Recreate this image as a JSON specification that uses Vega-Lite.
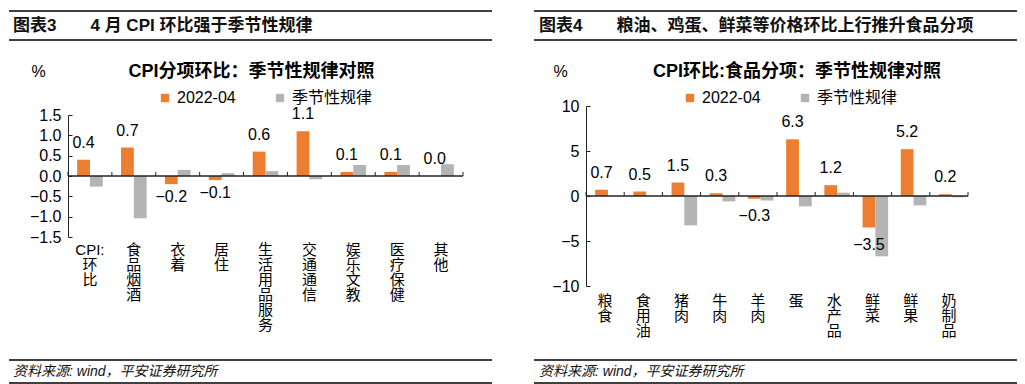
{
  "$schema": "https://vega.github.io/schema/vega-lite/v6.json",
  "padding": {"left": 8, "top": 10, "right": 0, "bottom": 0},
  "background": "white",
  "config": {
    "font": "Liberation Sans, Noto Sans CJK SC, sans-serif",
    "view": {"stroke": null},
    "axis": {"grid": false, "labelColor": "#000", "domainColor": "#222", "tickColor": "#222", "labelFont": "Liberation Sans, Noto Sans CJK SC, sans-serif", "titleFont": "Liberation Sans, Noto Sans CJK SC, sans-serif"},
    "axisY": {"labelOverlap": false},
    "legend": {"labelFont": "Liberation Sans, Noto Sans CJK SC, sans-serif", "labelColor": "#000"},
    "title": {"font": "Liberation Sans, Noto Sans CJK SC, sans-serif", "color": "#000"},
    "text": {"font": "Liberation Sans, Noto Sans CJK SC, sans-serif", "color": "#000"}
  },
  "datasets": {
    "left": [
      {"cat": "CPI:环比", "series": "2022-04", "value": 0.4},
      {"cat": "CPI:环比", "series": "季节性规律", "value": -0.26},
      {"cat": "食品烟酒", "series": "2022-04", "value": 0.7},
      {"cat": "食品烟酒", "series": "季节性规律", "value": -1.04},
      {"cat": "衣着", "series": "2022-04", "value": -0.2},
      {"cat": "衣着", "series": "季节性规律", "value": 0.15},
      {"cat": "居住", "series": "2022-04", "value": -0.1},
      {"cat": "居住", "series": "季节性规律", "value": 0.07},
      {"cat": "生活用品服务", "series": "2022-04", "value": 0.6},
      {"cat": "生活用品服务", "series": "季节性规律", "value": 0.12},
      {"cat": "交通通信", "series": "2022-04", "value": 1.1},
      {"cat": "交通通信", "series": "季节性规律", "value": -0.08},
      {"cat": "娱乐文教", "series": "2022-04", "value": 0.1},
      {"cat": "娱乐文教", "series": "季节性规律", "value": 0.27},
      {"cat": "医疗保健", "series": "2022-04", "value": 0.1},
      {"cat": "医疗保健", "series": "季节性规律", "value": 0.27},
      {"cat": "其他", "series": "2022-04", "value": 0.0},
      {"cat": "其他", "series": "季节性规律", "value": 0.29}
    ],
    "right": [
      {"cat": "粮食", "series": "2022-04", "value": 0.7},
      {"cat": "粮食", "series": "季节性规律", "value": 0.0},
      {"cat": "食用油", "series": "2022-04", "value": 0.5},
      {"cat": "食用油", "series": "季节性规律", "value": 0.0},
      {"cat": "猪肉", "series": "2022-04", "value": 1.5},
      {"cat": "猪肉", "series": "季节性规律", "value": -3.26},
      {"cat": "牛肉", "series": "2022-04", "value": 0.3},
      {"cat": "牛肉", "series": "季节性规律", "value": -0.6},
      {"cat": "羊肉", "series": "2022-04", "value": -0.3},
      {"cat": "羊肉", "series": "季节性规律", "value": -0.5},
      {"cat": "蛋", "series": "2022-04", "value": 6.3},
      {"cat": "蛋", "series": "季节性规律", "value": -1.15},
      {"cat": "水产品", "series": "2022-04", "value": 1.2},
      {"cat": "水产品", "series": "季节性规律", "value": 0.37},
      {"cat": "鲜菜", "series": "2022-04", "value": -3.5},
      {"cat": "鲜菜", "series": "季节性规律", "value": -6.7},
      {"cat": "鲜果", "series": "2022-04", "value": 5.2},
      {"cat": "鲜果", "series": "季节性规律", "value": -1.04},
      {"cat": "奶制品", "series": "2022-04", "value": 0.2},
      {"cat": "奶制品", "series": "季节性规律", "value": -0.15}
    ]
  },
  "spacing": 40,
  "resolve": {"scale": {"color": "independent"}, "legend": {"color": "independent"}},
  "hconcat": [
    {
      "spacing": 22,
      "resolve": {"scale": {"color": "independent"}, "legend": {"color": "independent"}},
      "vconcat": [
        {
          "width": 424, "height": 29,
          "data": {"values": [{"t": "图表3　　4 月 CPI 环比强于季节性规律"}]},
          "layer": [
            {"mark": {"type": "rule", "color": "#000", "strokeWidth": 1.3, "xOffset": -59},
             "encoding": {"x": {"datum": 0, "type": "quantitative", "scale": {"domain": [0, 1]}, "axis": null}, "x2": {"datum": 1}, "y": {"datum": 0, "type": "quantitative", "scale": {"domain": [0, 1]}, "axis": null}}},
            {"mark": {"type": "rule", "color": "#000", "strokeWidth": 1.3, "xOffset": -59},
             "encoding": {"x": {"datum": 0, "type": "quantitative", "scale": {"domain": [0, 1]}, "axis": null}, "x2": {"datum": 1}, "y": {"datum": 1, "type": "quantitative", "scale": {"domain": [0, 1]}, "axis": null}}},
            {"mark": {"type": "text", "align": "left", "baseline": "middle", "dx": -55, "fontSize": 17, "fontWeight": "bold", "color": "#111"},
             "encoding": {"x": {"datum": 0, "type": "quantitative", "scale": {"domain": [0, 1]}, "axis": null}, "y": {"datum": 0.5, "type": "quantitative", "scale": {"domain": [0, 1]}, "axis": null}, "text": {"field": "t"}}}
          ]
        },
        {
          "spacing": 27,
          "resolve": {"scale": {"color": "independent"}, "legend": {"color": "independent"}},
          "vconcat": [
            {
              "width": 395, "height": 122,
              "data": {"name": "left"},
              "title": {"text": "CPI分项环比：季节性规律对照", "anchor": "middle", "fontSize": 18, "fontWeight": "bold", "offset": -18, "dx": -14},
              "layer": [
                {
                  "mark": {"type": "bar"},
                  "encoding": {
                    "x": {"field": "cat", "type": "nominal", "sort": null, "scale": {"paddingInner": 0, "paddingOuter": 0},
                          "axis": {"orient": "bottom", "domain": false, "ticks": false, "labelAngle": 0, "labelAlign": "center", "labelBaseline": "top", "labelPadding": 5, "labelFontSize": 15, "labelLineHeight": 15, "labelOverlap": false, "title": null,
                                   "labelExpr": "datum.label == 'CPI:环比' ? ['CPI:', '环', '比'] : split(datum.label, '')"}},
                    "xOffset": {"field": "series", "type": "nominal", "scale": {"domain": ["2022-04", "季节性规律"], "paddingInner": 0, "paddingOuter": 0.715}},
                    "y": {"field": "value", "type": "quantitative", "scale": {"domain": [-1.5, 1.5], "nice": false, "zero": false},
                          "axis": {"orient": "left", "values": [-1.5, -1, -0.5, 0, 0.5, 1, 1.5], "format": ".1f", "tickSize": -4, "labelPadding": 11, "labelFontSize": 16, "labelOverlap": false,
                                   "title": "%", "titleAngle": 0, "titleX": -30, "titleY": -44, "titleAlign": "center", "titleBaseline": "middle", "titleFontSize": 16, "titleFontWeight": "normal", "titleColor": "#000"}},
                    "color": {"field": "series", "type": "nominal", "scale": {"domain": ["2022-04", "季节性规律"], "range": ["#ED7D31", "#B4B4B4"]},
                              "legend": {"orient": "none", "legendX": 89, "legendY": -25, "direction": "horizontal", "title": null, "symbolType": "square", "symbolSize": 70, "symbolStrokeWidth": 0, "labelFontSize": 16, "columnPadding": 36, "labelOffset": 4}}
                  }
                },
                {
                  "transform": [{"filter": "datum.series == '2022-04'"}],
                  "mark": {"type": "bar", "fill": "transparent", "stroke": "#222", "strokeWidth": 1},
                  "encoding": {
                    "x": {"field": "cat", "type": "nominal", "sort": null},
                    "y": {"datum": 0, "type": "quantitative",
                          "axis": {"orient": "left", "values": [-1.5, -1, -0.5, 0, 0.5, 1, 1.5], "format": ".1f", "tickSize": -4, "labelPadding": 11, "labelFontSize": 16, "labelOverlap": false,
                                   "title": "%", "titleAngle": 0, "titleX": -30, "titleY": -44, "titleAlign": "center", "titleBaseline": "middle", "titleFontSize": 16, "titleFontWeight": "normal", "titleColor": "#000"}},
                    "y2": {"datum": 0}
                  }
                },
                {
                  "transform": [{"filter": "datum.series == '2022-04'"}],
                  "mark": {"type": "rule", "color": "#222", "strokeWidth": 1},
                  "encoding": {
                    "x": {"field": "cat", "type": "nominal", "sort": null, "bandPosition": 0},
                    "y": {"datum": 0, "type": "quantitative",
                          "axis": {"orient": "left", "values": [-1.5, -1, -0.5, 0, 0.5, 1, 1.5], "format": ".1f", "tickSize": -4, "labelPadding": 11, "labelFontSize": 16, "labelOverlap": false,
                                   "title": "%", "titleAngle": 0, "titleX": -30, "titleY": -44, "titleAlign": "center", "titleBaseline": "middle", "titleFontSize": 16, "titleFontWeight": "normal", "titleColor": "#000"}},
                    "y2": {"datum": 0.1}
                  }
                },
                {
                  "transform": [{"filter": "datum.series == '2022-04' && datum.cat == '其他'"}],
                  "mark": {"type": "rule", "color": "#222", "strokeWidth": 1},
                  "encoding": {
                    "x": {"field": "cat", "type": "nominal", "sort": null, "bandPosition": 1},
                    "y": {"datum": 0, "type": "quantitative",
                          "axis": {"orient": "left", "values": [-1.5, -1, -0.5, 0, 0.5, 1, 1.5], "format": ".1f", "tickSize": -4, "labelPadding": 11, "labelFontSize": 16, "labelOverlap": false,
                                   "title": "%", "titleAngle": 0, "titleX": -30, "titleY": -44, "titleAlign": "center", "titleBaseline": "middle", "titleFontSize": 16, "titleFontWeight": "normal", "titleColor": "#000"}},
                    "y2": {"datum": 0.1}
                  }
                },
                {
                  "transform": [{"filter": "datum.series == '2022-04' && datum.value >= 0"}],
                  "mark": {"type": "text", "baseline": "middle", "align": "center", "dy": -17, "fontSize": 16},
                  "encoding": {
                    "x": {"field": "cat", "type": "nominal", "sort": null},
                    "xOffset": {"field": "series", "type": "nominal"},
                    "y": {"field": "value", "type": "quantitative",
                          "axis": {"orient": "left", "values": [-1.5, -1, -0.5, 0, 0.5, 1, 1.5], "format": ".1f", "tickSize": -4, "labelPadding": 11, "labelFontSize": 16, "labelOverlap": false,
                                   "title": "%", "titleAngle": 0, "titleX": -30, "titleY": -44, "titleAlign": "center", "titleBaseline": "middle", "titleFontSize": 16, "titleFontWeight": "normal", "titleColor": "#000"}},
                    "text": {"field": "value", "type": "quantitative", "format": ".1f"}
                  }
                },
                {
                  "transform": [{"filter": "datum.series == '2022-04' && datum.value < 0"}],
                  "mark": {"type": "text", "baseline": "middle", "align": "center", "dy": 13, "fontSize": 16},
                  "encoding": {
                    "x": {"field": "cat", "type": "nominal", "sort": null},
                    "xOffset": {"field": "series", "type": "nominal"},
                    "y": {"field": "value", "type": "quantitative",
                          "axis": {"orient": "left", "values": [-1.5, -1, -0.5, 0, 0.5, 1, 1.5], "format": ".1f", "tickSize": -4, "labelPadding": 11, "labelFontSize": 16, "labelOverlap": false,
                                   "title": "%", "titleAngle": 0, "titleX": -30, "titleY": -44, "titleAlign": "center", "titleBaseline": "middle", "titleFontSize": 16, "titleFontWeight": "normal", "titleColor": "#000"}},
                    "text": {"field": "value", "type": "quantitative", "format": ".1f"}
                  }
                }
              ]
            },
            {
              "width": 424, "height": 23,
              "data": {"values": [{"t": "资料来源: wind，平安证券研究所"}]},
              "layer": [
                {"mark": {"type": "rule", "color": "#000", "strokeWidth": 1.3, "xOffset": -59},
                 "encoding": {"x": {"datum": 0, "type": "quantitative", "scale": {"domain": [0, 1]}, "axis": null}, "x2": {"datum": 1}, "y": {"datum": 0, "type": "quantitative", "scale": {"domain": [0, 1]}, "axis": null}}},
                {"mark": {"type": "rule", "color": "#000", "strokeWidth": 1.3, "xOffset": -59},
                 "encoding": {"x": {"datum": 0, "type": "quantitative", "scale": {"domain": [0, 1]}, "axis": null}, "x2": {"datum": 1}, "y": {"datum": 1, "type": "quantitative", "scale": {"domain": [0, 1]}, "axis": null}}},
                {"mark": {"type": "text", "align": "left", "baseline": "middle", "dx": -55, "fontSize": 14, "fontStyle": "italic", "color": "#111"},
                 "encoding": {"x": {"datum": 0, "type": "quantitative", "scale": {"domain": [0, 1]}, "axis": null}, "y": {"datum": 0.5, "type": "quantitative", "scale": {"domain": [0, 1]}, "axis": null}, "text": {"field": "t"}}}
              ]
            }
          ]
        }
      ]
    },
    {
      "spacing": 22,
      "resolve": {"scale": {"color": "independent"}, "legend": {"color": "independent"}},
      "vconcat": [
        {
          "width": 431, "height": 29,
          "data": {"values": [{"t": "图表4　　粮油、鸡蛋、鲜菜等价格环比上行推升食品分项"}]},
          "layer": [
            {"mark": {"type": "rule", "color": "#000", "strokeWidth": 1.3, "xOffset": -52},
             "encoding": {"x": {"datum": 0, "type": "quantitative", "scale": {"domain": [0, 1]}, "axis": null}, "x2": {"datum": 1}, "y": {"datum": 0, "type": "quantitative", "scale": {"domain": [0, 1]}, "axis": null}}},
            {"mark": {"type": "rule", "color": "#000", "strokeWidth": 1.3, "xOffset": -52},
             "encoding": {"x": {"datum": 0, "type": "quantitative", "scale": {"domain": [0, 1]}, "axis": null}, "x2": {"datum": 1}, "y": {"datum": 1, "type": "quantitative", "scale": {"domain": [0, 1]}, "axis": null}}},
            {"mark": {"type": "text", "align": "left", "baseline": "middle", "dx": -47, "fontSize": 17, "fontWeight": "bold", "color": "#111"},
             "encoding": {"x": {"datum": 0, "type": "quantitative", "scale": {"domain": [0, 1]}, "axis": null}, "y": {"datum": 0.5, "type": "quantitative", "scale": {"domain": [0, 1]}, "axis": null}, "text": {"field": "t"}}}
          ]
        },
        {
          "spacing": 21,
          "resolve": {"scale": {"color": "independent"}, "legend": {"color": "independent"}},
          "vconcat": [
            {
              "width": 382, "height": 180,
              "data": {"name": "right"},
              "title": {"text": "CPI环比:食品分项：季节性规律对照", "anchor": "middle", "fontSize": 18, "fontWeight": "bold", "offset": -18, "dx": 20},
              "layer": [
                {
                  "mark": {"type": "bar"},
                  "encoding": {
                    "x": {"field": "cat", "type": "nominal", "sort": null, "scale": {"paddingInner": 0, "paddingOuter": 0},
                          "axis": {"orient": "bottom", "domain": false, "ticks": false, "labelAngle": 0, "labelAlign": "center", "labelBaseline": "top", "labelPadding": 7, "labelFontSize": 15, "labelLineHeight": 15, "labelOverlap": false, "title": null,
                                   "labelExpr": "split(datum.label, '')"}},
                    "xOffset": {"field": "series", "type": "nominal", "scale": {"domain": ["2022-04", "季节性规律"], "paddingInner": 0, "paddingOuter": 0.5}},
                    "y": {"field": "value", "type": "quantitative", "scale": {"domain": [-10, 10], "nice": false, "zero": false},
                          "axis": {"orient": "left", "values": [-10, -5, 0, 5, 10], "format": "d", "tickSize": -4, "labelPadding": 11, "labelFontSize": 16, "labelOverlap": false,
                                   "title": "%", "titleAngle": 0, "titleX": -26, "titleY": -35, "titleAlign": "center", "titleBaseline": "middle", "titleFontSize": 16, "titleFontWeight": "normal", "titleColor": "#000"}},
                    "color": {"field": "series", "type": "nominal", "scale": {"domain": ["2022-04", "季节性规律"], "range": ["#ED7D31", "#B4B4B4"]},
                              "legend": {"orient": "none", "legendX": 96, "legendY": -16, "direction": "horizontal", "title": null, "symbolType": "square", "symbolSize": 70, "symbolStrokeWidth": 0, "labelFontSize": 16, "columnPadding": 36, "labelOffset": 4}}
                  }
                },
                {
                  "transform": [{"filter": "datum.series == '2022-04'"}],
                  "mark": {"type": "bar", "fill": "transparent", "stroke": "#222", "strokeWidth": 1},
                  "encoding": {
                    "x": {"field": "cat", "type": "nominal", "sort": null},
                    "y": {"datum": 0, "type": "quantitative"},
                    "y2": {"datum": 0}
                  }
                },
                {
                  "transform": [{"filter": "datum.series == '2022-04'"}],
                  "mark": {"type": "rule", "color": "#222", "strokeWidth": 1},
                  "encoding": {
                    "x": {"field": "cat", "type": "nominal", "sort": null, "bandPosition": 0},
                    "y": {"datum": 0, "type": "quantitative"},
                    "y2": {"datum": 0.45}
                  }
                },
                {
                  "transform": [{"filter": "datum.series == '2022-04' && datum.cat == '奶制品'"}],
                  "mark": {"type": "rule", "color": "#222", "strokeWidth": 1},
                  "encoding": {
                    "x": {"field": "cat", "type": "nominal", "sort": null, "bandPosition": 1},
                    "y": {"datum": 0, "type": "quantitative"},
                    "y2": {"datum": 0.45}
                  }
                },
                {
                  "transform": [{"filter": "datum.series == '2022-04' && datum.value >= 0"}],
                  "mark": {"type": "text", "baseline": "middle", "align": "center", "dy": -17, "fontSize": 16},
                  "encoding": {
                    "x": {"field": "cat", "type": "nominal", "sort": null},
                    "xOffset": {"field": "series", "type": "nominal"},
                    "y": {"field": "value", "type": "quantitative"},
                    "text": {"field": "value", "type": "quantitative", "format": ".1f"}
                  }
                },
                {
                  "transform": [{"filter": "datum.series == '2022-04' && datum.value < 0"}],
                  "mark": {"type": "text", "baseline": "middle", "align": "center", "dy": 17, "fontSize": 16},
                  "encoding": {
                    "x": {"field": "cat", "type": "nominal", "sort": null},
                    "xOffset": {"field": "series", "type": "nominal"},
                    "y": {"field": "value", "type": "quantitative"},
                    "text": {"field": "value", "type": "quantitative", "format": ".1f"}
                  }
                }
              ]
            },
            {
              "width": 431, "height": 23,
              "data": {"values": [{"t": "资料来源: wind，平安证券研究所"}]},
              "layer": [
                {"mark": {"type": "rule", "color": "#000", "strokeWidth": 1.3, "xOffset": -52},
                 "encoding": {"x": {"datum": 0, "type": "quantitative", "scale": {"domain": [0, 1]}, "axis": null}, "x2": {"datum": 1}, "y": {"datum": 0, "type": "quantitative", "scale": {"domain": [0, 1]}, "axis": null}}},
                {"mark": {"type": "rule", "color": "#000", "strokeWidth": 1.3, "xOffset": -52},
                 "encoding": {"x": {"datum": 0, "type": "quantitative", "scale": {"domain": [0, 1]}, "axis": null}, "x2": {"datum": 1}, "y": {"datum": 1, "type": "quantitative", "scale": {"domain": [0, 1]}, "axis": null}}},
                {"mark": {"type": "text", "align": "left", "baseline": "middle", "dx": -47, "fontSize": 14, "fontStyle": "italic", "color": "#111"},
                 "encoding": {"x": {"datum": 0, "type": "quantitative", "scale": {"domain": [0, 1]}, "axis": null}, "y": {"datum": 0.5, "type": "quantitative", "scale": {"domain": [0, 1]}, "axis": null}, "text": {"field": "t"}}}
              ]
            }
          ]
        }
      ]
    }
  ]
}
